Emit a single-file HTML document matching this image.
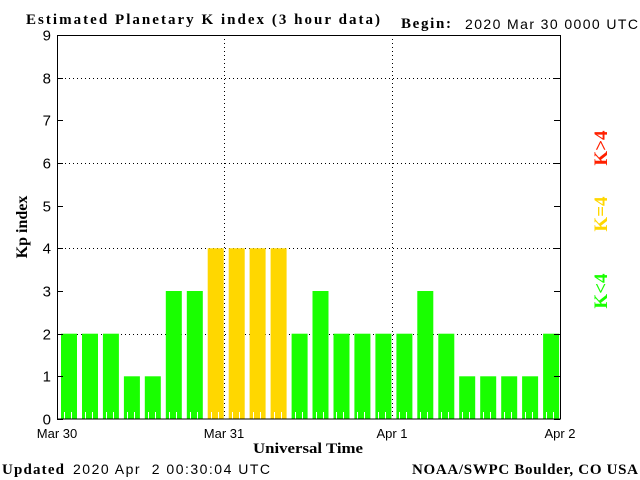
<!DOCTYPE html>
<html><head><meta charset="utf-8"><style>html,body{margin:0;padding:0;background:#fff}svg{display:block}</style></head><body>
<svg width="640" height="480" xmlns="http://www.w3.org/2000/svg">
<rect width="640" height="480" fill="#fff"/>
<g id="grid" stroke="#000" stroke-width="1" stroke-dasharray="1,3">
<line x1="57" y1="78.5" x2="560" y2="78.5"/>
<line x1="57" y1="163.5" x2="560" y2="163.5"/>
<line x1="57" y1="248.5" x2="560" y2="248.5"/>
<line x1="57" y1="334.5" x2="560" y2="334.5"/>
<line x1="224.5" y1="35" x2="224.5" y2="419"/>
<line x1="392.5" y1="35" x2="392.5" y2="419"/>
</g>
<g id="bars"></g>
<g id="hticks" stroke="#fff" stroke-width="1"></g>
<rect x="57.5" y="35.5" width="503" height="383.5" fill="none" stroke="#000" stroke-width="1"/>
<g id="ticks" stroke="#000" stroke-width="1"></g>
<g font-family="Liberation Sans, sans-serif" font-size="15" fill="#000" id="ylab" text-anchor="end"></g>
<g font-family="Liberation Sans, sans-serif" font-size="13" fill="#000" text-anchor="middle">
<text x="57" y="438">Mar 30</text><text x="224" y="438">Mar 31</text><text x="392" y="438">Apr 1</text><text x="560" y="438">Apr 2</text>
</g>
<text x="253" y="453" font-family="Liberation Serif, serif" font-weight="bold" font-size="15" textLength="110" lengthAdjust="spacingAndGlyphs">Universal Time</text>
<text x="27" y="227" font-family="Liberation Serif, serif" font-weight="bold" font-size="16" text-anchor="middle" transform="rotate(-90 27 227)">Kp index</text>
<text x="26" y="24" font-family="Liberation Serif, serif" font-weight="bold" font-size="15" textLength="354" lengthAdjust="spacing">Estimated Planetary K index (3 hour data)</text>
<text x="401" y="28" font-family="Liberation Serif, serif" font-weight="bold" font-size="15" textLength="50" lengthAdjust="spacing">Begin:</text>
<text x="465" y="29" font-family="Liberation Sans, sans-serif" font-size="14" textLength="173" lengthAdjust="spacing">2020 Mar 30 0000 UTC</text>
<text x="2" y="474" font-family="Liberation Serif, serif" font-weight="bold" font-size="15" textLength="62" lengthAdjust="spacing">Updated</text>
<text x="73" y="474" font-family="Liberation Sans, sans-serif" font-size="14" textLength="197" lengthAdjust="spacing" xml:space="preserve">2020 Apr  2 00:30:04 UTC</text>
<text x="412" y="474" font-family="Liberation Serif, serif" font-weight="bold" font-size="15" textLength="226" lengthAdjust="spacing">NOAA/SWPC Boulder, CO USA</text>
<g font-family="Liberation Serif, serif" font-weight="bold" font-size="19" text-anchor="middle">
<text x="607" y="148" fill="#ff2000" transform="rotate(-90 607 148)">K&gt;4</text>
<text x="607" y="214" fill="#ffd700" transform="rotate(-90 607 214)">K=4</text>
<text x="607" y="291" fill="#19ff00" transform="rotate(-90 607 291)">K&lt;4</text>
</g>
<script>
var d=[2,2,2,1,1,3,3,4,4,4,4,2,3,2,2,2,2,3,2,1,1,1,1,2];
var ns="http://www.w3.org/2000/svg",b=document.getElementById('bars');
d.forEach(function(v,i){var r=document.createElementNS(ns,'rect');var x=57+i*20.96+4;var h=v*42.67;
r.setAttribute('x',x.toFixed(1));r.setAttribute('width','16');r.setAttribute('y',(419-h).toFixed(1));r.setAttribute('height',h.toFixed(1));
r.setAttribute('fill',v>4?'#ff2000':(v==4?'#ffd700':'#19ff00'));b.appendChild(r);});
var ht=document.getElementById('hticks');
for(var k=1;k<72;k++){if(k%24==0)continue;var x=Math.round(57+k*6.987)+0.5;var l=document.createElementNS(ns,'line');
l.setAttribute('x1',x);l.setAttribute('x2',x);l.setAttribute('y1',412);l.setAttribute('y2',419);ht.appendChild(l);}
var t=document.getElementById('ticks'),yl=document.getElementById('ylab');
for(var j=0;j<=9;j++){var y=Math.round(419-j*42.67)+0.5;
[[57,63],[554,560]].forEach(function(p){var l=document.createElementNS(ns,'line');l.setAttribute('x1',p[0]);l.setAttribute('x2',p[1]);l.setAttribute('y1',y);l.setAttribute('y2',y);t.appendChild(l);});
var tx=document.createElementNS(ns,'text');tx.setAttribute('x',51);tx.setAttribute('y',y+5);tx.textContent=j;yl.appendChild(tx);}
</script>
</svg>
</body></html>
